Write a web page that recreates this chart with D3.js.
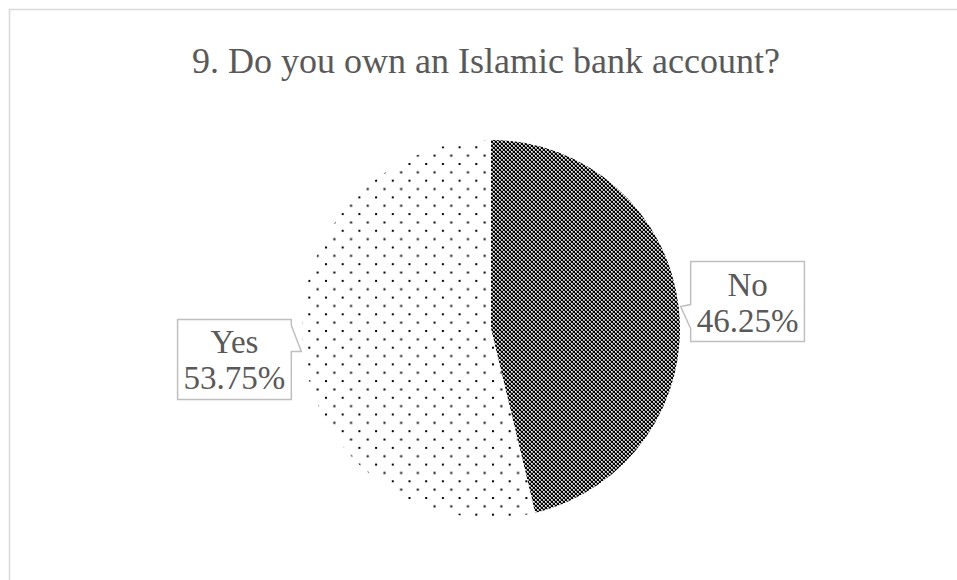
<!DOCTYPE html>
<meta charset="utf-8">
<style>
body { margin: 0; background: #fff; }
text { font-family: "Liberation Serif", "Times New Roman", serif; fill: #595959; }
</style>
<svg width="957" height="580" id="chart"></svg>
<script src="https://d3js.org/d3.v7.min.js"></script>
<script>

var title = "9. Do you own an Islamic bank account?";
var categories = ["No", "Yes"];
var values = [46.25, 53.75];

var svg = d3.select("#chart"),
    width = +svg.attr("width"),
    height = +svg.attr("height");

var defs = svg.append("defs");

// dense checker for "No"
var chk = defs.append("pattern")
    .attr("id", "pat-no")
    .attr("patternUnits", "userSpaceOnUse")
    .attr("width", 4).attr("height", 4);
chk.append("rect").attr("width", 4).attr("height", 4).attr("fill", "#a0a0a0");
chk.append("rect").attr("x", 0).attr("y", 0).attr("width", 2).attr("height", 2).attr("fill", "#000");
chk.append("rect").attr("x", 2).attr("y", 2).attr("width", 2).attr("height", 2).attr("fill", "#000");
chk.append("rect").attr("x", 2).attr("y", 0).attr("width", 1).attr("height", 1).attr("fill", "#fff");
chk.append("rect").attr("x", 0).attr("y", 2).attr("width", 1).attr("height", 1).attr("fill", "#fff");

// sparse dots for "Yes"
var dots = defs.append("pattern")
    .attr("id", "pat-yes")
    .attr("patternUnits", "userSpaceOnUse")
    .attr("width", 16.7).attr("height", 16.7);
dots.append("rect").attr("width", 16.7).attr("height", 16.7).attr("fill", "#fff");
dots.append("rect").attr("x", 1).attr("y", 1).attr("width", 2).attr("height", 2).attr("fill", "#000");
dots.append("rect").attr("x", 9.35).attr("y", 9.35).attr("width", 2).attr("height", 2).attr("fill", "#000");

var fills = d3.scaleOrdinal().domain(categories).range(["url(#pat-no)", "url(#pat-yes)"]);

// chart area frame (runs off the right and bottom)
svg.append("rect")
    .attr("x", 9.5).attr("y", 9.5)
    .attr("width", width + 20).attr("height", height + 20)
    .attr("fill", "none")
    .attr("stroke", "#d9d9d9")
    .attr("stroke-width", 1.5);

svg.append("text")
    .attr("x", 486)
    .attr("y", 73)
    .attr("text-anchor", "middle")
    .style("font-size", "36px")
    .text(title);

var cx = 491, cy = 329, r = 189;

var pie = d3.pie().sort(null).value(function(d) { return d; });
var arcs = pie(values);
var arc = d3.arc().innerRadius(0).outerRadius(r);

var g = svg.append("g").attr("transform", "translate(" + cx + "," + cy + ")");

g.selectAll("path")
    .data(arcs)
    .enter().append("path")
    .attr("d", arc)
    .attr("fill", function(d, i) { return fills(categories[i]); });

// callout labels
var fmt = function(v) { return v.toFixed(2) + "%"; };
var boxH = 80, pad = 6, gap = 10;

arcs.forEach(function(d, i) {
  var a = (d.startAngle + d.endAngle) / 2;
  var tx = cx + (r + 2) * Math.sin(a),
      ty = cy - (r + 2) * Math.cos(a);
  var right = Math.sin(a) > 0;

  var lg = svg.append("g");
  var t1 = lg.append("text").attr("text-anchor", "middle").style("font-size", "33px").text(categories[i]);
  var t2 = lg.append("text").attr("text-anchor", "middle").style("font-size", "33px").text(fmt(values[i]));
  var w = Math.max(t1.node().getComputedTextLength(), t2.node().getComputedTextLength()) + 2 * pad;

  var x0, y0;
  if (right) {
    x0 = tx + gap; y0 = ty - 45;
  } else {
    x0 = tx - gap - w; y0 = ty - 32;
  }
  var x1 = x0 + w, y1 = y0 + boxH;
  var p;
  if (right) {
    p = [[x0, y0], [x1, y0], [x1, y1], [x0, y1], [x0, ty + 22], [tx, ty], [x0, ty - 2]];
  } else {
    p = [[x0, y0], [x1, y0], [x1, ty - 26], [tx, ty], [x1, ty], [x1, y1], [x0, y1]];
  }
  lg.insert("path", "text")
    .attr("d", "M" + p.join("L") + "Z")
    .attr("fill", "#fff")
    .attr("stroke", "#bfbfbf")
    .attr("stroke-width", 1.5);

  var mx = (x0 + x1) / 2;
  t1.attr("x", mx).attr("y", y0 + 34);
  t2.attr("x", mx).attr("y", y0 + 70);
});

</script>
